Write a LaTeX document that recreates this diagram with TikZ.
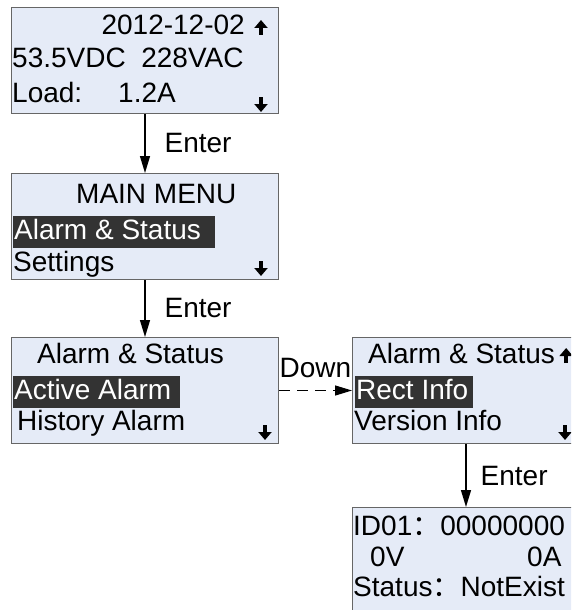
\documentclass[tikz,border=0pt]{standalone}
\usepackage{fontspec}
\setmainfont{Liberation Sans}
\newfontfamily\cjk{Noto Sans CJK SC}
\usetikzlibrary{arrows.meta,calc,positioning}
\definecolor{lcdfill}{HTML}{E5EBF7}
\definecolor{lcdedge}{HTML}{666666}
\definecolor{lcdsel}{HTML}{333333}
\tikzset{
  lcd/.style={draw=lcdedge,fill=lcdfill,line width=1pt,minimum width=267pt,
    minimum height=106pt,inner sep=0pt,anchor=north west},
  txt/.style={inner sep=0pt,anchor=base west},
  sel/.style={txt,fill=lcdsel,text=white,inner xsep=1pt,inner ysep=3pt,
    text height=20pt,text depth=6pt},
  flow/.style={line width=1.3pt,-{Triangle[length=17pt,width=10pt]}},
  scroll/.style={line width=4pt,-{Triangle[length=8pt,width=13pt]}},
  lbl/.style={inner sep=0pt}
}
\newcommand{\fwc}{{\cjk ：}}
\begin{document}
\begin{tikzpicture}[x=1pt,y=-1pt,font=\fontsize{28}{31}\selectfont]
\clip (0,0) rectangle (571,610);
\useasboundingbox (0,0) rectangle (571,610);

\node[lcd] (home) at (11,7) {};
\node[lcd] (menu) at (11,173) {};
\node[lcd] (alarm) at (11,337) {};
\node[lcd] (alarm2) at (352,337) {};
\node[lcd] (rect) at (352,507) {};

% home screen
\node[txt,anchor=base east] (date) at ($(home.north east)+(-34,28)$) {2012-12-02};
\node[txt] (volt) at ($(home.north west)+(1,60)$) {53.5VDC\ \ 228VAC};
\node[txt] (load) at ($(home.north west)+(1,95)$) {Load:};
\node[txt] (amp) at ($(home.north west)+(107,95)$) {1.2A};
\draw[scroll] ($(home.north east)+(-18,28)$) -- ++(0,-15);
\draw[scroll] ($(home.north east)+(-18,90)$) -- ++(0,15);

% main menu
\node[txt] (menutitle) at ($(menu.north west)+(65,30)$) {MAIN MENU};
\node[sel] (menusel) at ($(menu.north west)+(2,66)$) {Alarm \& Status\hspace{13pt}\null};
\node[txt] (settings) at ($(menu.north west)+(2,98)$) {Settings};
\draw[scroll] ($(menu.north east)+(-18,88)$) -- ++(0,15);

% alarm & status
\node[txt] (alarmtitle) at ($(alarm.north west)+(26,26)$) {Alarm \& Status};
\node[sel] (active) at ($(alarm.north west)+(2,62)$) {Active Alarm\hspace{8pt}\null};
\node[txt] (history) at ($(alarm.north west)+(6,93)$) {History Alarm};
\draw[scroll] ($(alarm.north east)+(-14,88)$) -- ++(0,15);

\node[txt] (alarmtitle2) at ($(alarm2.north west)+(16,26)$) {Alarm \& Status};
\draw[scroll] ($(alarmtitle2.base east)+(11,0)$) -- ++(0,-15);
\node[sel] (rectsel) at ($(alarm2.north west)+(3,62)$) {Rect Info\hspace{4pt}\null};
\node[txt] (version) at ($(alarm2.north west)+(2,93)$) {Version Info};
\draw[scroll] ($(alarm2.north west)+(213,88)$) -- ++(0,15);

% rectifier info
\node[txt] (id) at ($(rect.north west)+(1,28)$) {ID01\fwc 00000000};
\node[txt] (rv) at ($(rect.north west)+(18,59)$) {0V};
\node[txt] (ra) at ($(rect.north west)+(175,59)$) {0A};
\node[txt] (status) at ($(rect.north west)+(1,89)$) {Status\fwc NotExist};

\draw[flow] (home) -- (menu) node[lbl,midway,right=19pt] {Enter};
\draw[flow] (menu) -- (alarm) node[lbl,midway,right=19pt] {Enter};
\draw[flow,dash pattern=on 11pt off 7pt] (alarm) -- (alarm2)
  node[lbl,midway,above=12pt] {Down};
\coordinate (e3) at ($(alarm2.south west)+(114,0)$);
\draw[flow] (e3) -- (e3 |- rect.north) node[lbl,midway,right=14pt] {Enter};

\end{tikzpicture}
\end{document}
